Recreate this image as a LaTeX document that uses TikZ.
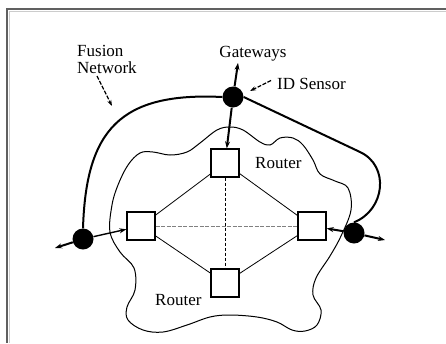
\documentclass[tikz,border=0pt]{standalone}
\usepackage{fontspec}
\setmainfont{Liberation Serif}
\usetikzlibrary{arrows.meta}
\begin{document}
\begin{tikzpicture}[x=1pt,y=-1pt,
  router/.style={draw,fill=white,minimum size=28pt,inner sep=0,line width=1.3pt},
  gw/.style={circle,fill=black,minimum size=21pt,inner sep=0},
  lbl/.style={font=\fontsize{17}{17}\selectfont,inner sep=0},
  biglink/.style={line width=2pt},
  meshlink/.style={line width=0.8pt},
  tip/.style={-{Stealth[length=7pt,width=5pt]}},
  pointer/.style={line width=1.2pt,dash pattern=on 4pt off 1.5pt,-{Stealth[length=6pt,width=4pt]}},
]
\useasboundingbox (0,0) rectangle (446,343);
\draw[line width=2.4pt,gray!75!black] (446,9) -- (7,9) -- (7,343);
\draw[line width=0.8pt,gray!40] (446,11.5) -- (9.5,11.5) -- (9.5,343);

% cloud
\draw[line width=1pt] plot[smooth cycle, tension=0.6] coordinates {
 (140,153) (153,152) (170,155) (187,152) (200,143) (217,130) (230,127) (243,130)
 (260,142) (270,145) (280,138) (293,138) (303,145) (313,160) (320,174) (335,181)
 (348,188) (351,210) (341,236) (330,256) (316,278) (313,295) (321,310) (317,325)
 (305,331) (292,330) (277,322) (257,317) (230,315) (210,317) (187,325) (163,332)
 (143,330) (128,320) (127,307) (135,290) (134,268) (120,252) (110,232) (112,205)
 (118,185) (128,165)};

% nodes
\node[router] (rt) at (225,163) {};
\node[router] (rl) at (141,226) {};
\node[router] (rr) at (312,226) {};
\node[router] (rb) at (225,283) {};
\node[gw] (gt) at (233,97) {};
\node[gw] (gl) at (83,239) {};
\node[gw] (gr) at (354,233) {};
\coordinate (ot) at (238,63);
\coordinate (ol) at (55,248);
\coordinate (or) at (385,240);

% mesh
\draw[meshlink] (rt) -- (rl);
\draw[meshlink] (rt) -- (rr);
\draw[meshlink] (rb) -- (rl);
\draw[meshlink] (rb) -- (rr);
\draw[line width=0.7pt,gray,dash pattern=on 4pt off 1.5pt] (rl) -- (rr);
\draw[line width=0.8pt,densely dashed] (rt) -- (rb);

% fusion network
\draw[biglink] (gl.north) .. controls (86,130) and (120,92) .. (gt.west);
\draw[biglink] (gt.east) -- (360,152) .. controls (390,166) and (385,210) .. (gr.north);

% gateway arrows
\draw[biglink,tip] (gt) -- (ot);
\draw[biglink,tip] (gt) -- (rt);
\draw[biglink,tip] (gl) -- (ol);
\draw[line width=1.4pt,tip] (gl) -- (rl);
\draw[biglink,tip] (gr) -- (or);
\draw[biglink,tip] (gr) -- (rr);

% labels
\node[lbl,anchor=north west,align=left] (fn) at (77,45.5) {Fusion\\Network};
\node[lbl,anchor=base] (gwl) at (253,57) {Gateways};
\node[lbl,anchor=base west] (ids) at (277,89) {ID Sensor};
\node[lbl,anchor=base west] (rtl) at (255,168) {Router};
\node[lbl,anchor=base west] (rbl) at (155,305) {Router};

\coordinate (fnp) at (112,106);
\coordinate (idp) at (250,91);
\draw[pointer] (97,76) -- (fnp);
\draw[pointer] (ids.west) ++(-6,-3) -- (idp);
\end{tikzpicture}
\end{document}
